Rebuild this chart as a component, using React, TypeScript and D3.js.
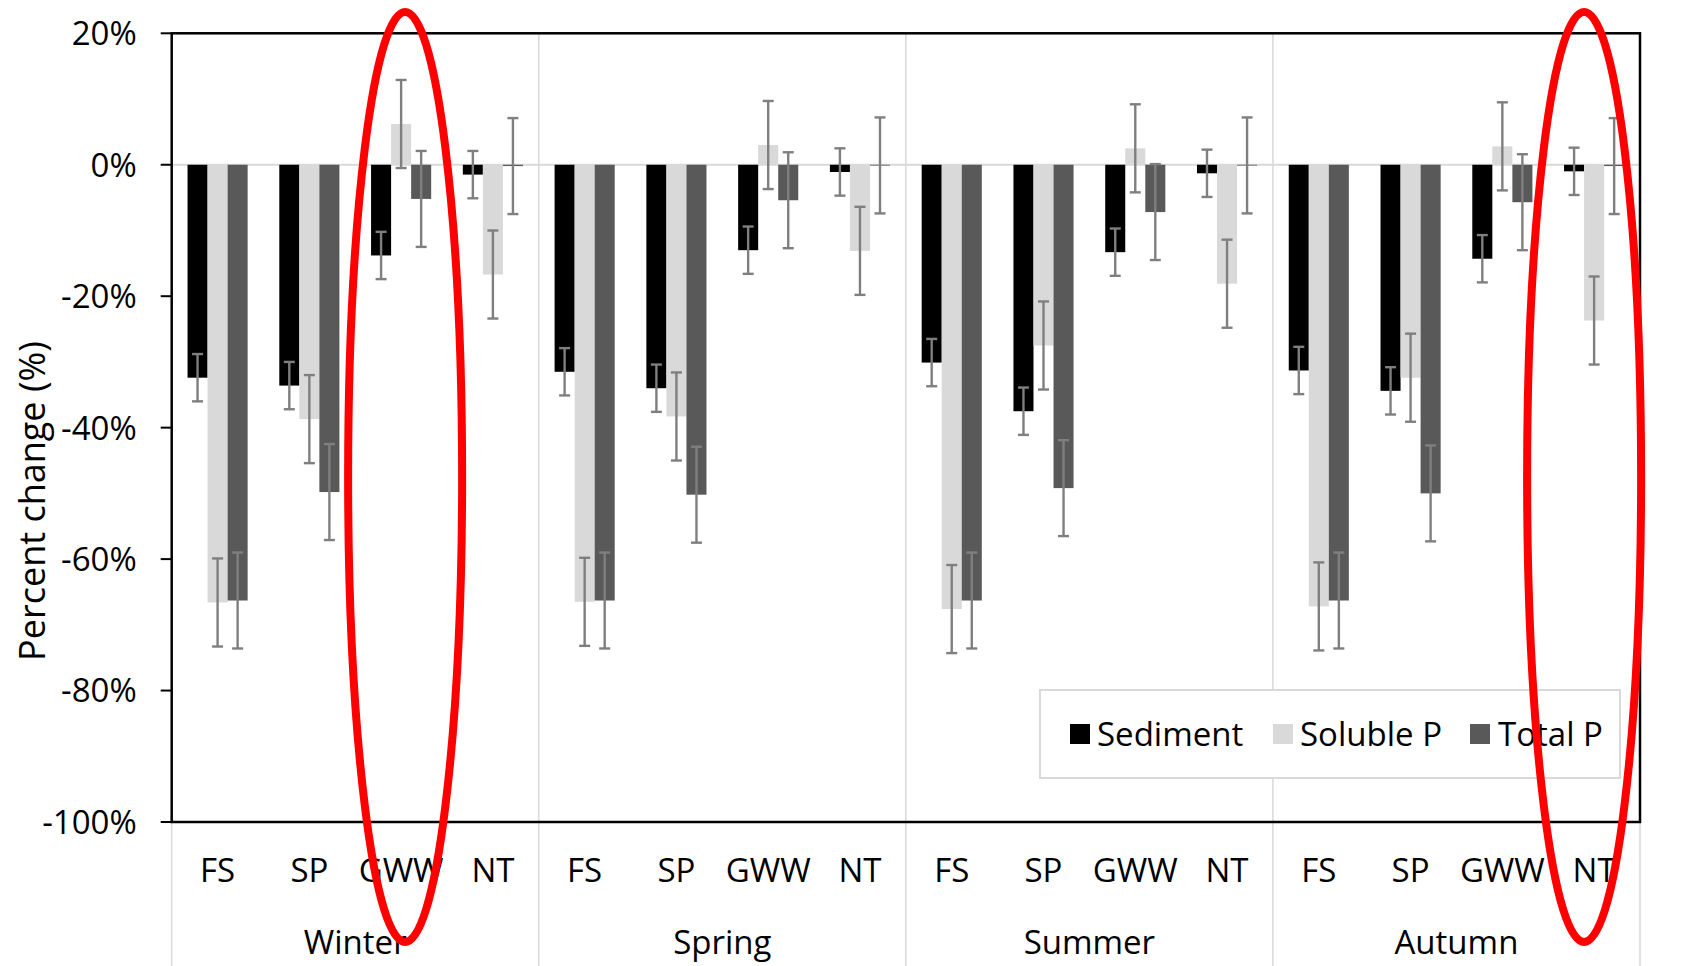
import React from "react";
import * as d3 from "d3";

const seasons = ["Winter", "Spring", "Summer", "Autumn"];
const categories = ["FS", "SP", "GWW", "NT"];
const seriesNames = ["Sediment", "Soluble P", "Total P"];
const seriesColors = ["#000000", "#d9d9d9", "#595959"];

const sediment = [-32.4, -33.6, -13.8, -1.5, -31.5, -34.0, -13.0, -1.1, -30.1, -37.5, -13.3, -1.3, -31.3, -34.4, -14.3, -1.0];
const soluble = [-66.6, -38.7, 6.2, -16.7, -66.5, -38.3, 3.0, -13.1, -67.6, -27.5, 2.5, -18.1, -67.2, -32.4, 2.8, -23.7];
const totalP = [-66.3, -49.8, -5.2, -0.2, -66.3, -50.2, -5.4, -0.1, -66.3, -49.2, -7.2, -0.1, -66.3, -50.0, -5.7, -0.2];

const sedimentErr = [3.6, 3.6, 3.6, 3.6, 3.6, 3.6, 3.6, 3.6, 3.6, 3.6, 3.6, 3.6, 3.6, 3.6, 3.6, 3.6];
const solubleErr = [6.7, 6.7, 6.7, 6.7, 6.7, 6.7, 6.7, 6.7, 6.7, 6.7, 6.7, 6.7, 6.7, 6.7, 6.7, 6.7];
const totalErr = [7.3, 7.3, 7.3, 7.3, 7.3, 7.3, 7.3, 7.3, 7.3, 7.3, 7.3, 7.3, 7.3, 7.3, 7.3, 7.3];

const yTicks = [20, 0, -20, -40, -60, -80, -100];

// highlighted groups: [season, category, x offset]
const highlights = [
  ["Winter", "GWW", 4],
  ["Autumn", "NT", -10],
];

const W = 1683;
const H = 966;
const left = 171.7;
const right = 1640;
const top = 33.3;
const bottom = 822;
const FONT = "'Open Sans', 'Noto Sans', sans-serif";
const FS = 33;

export default function App() {
  const y = d3.scaleLinear().domain([-100, 20]).range([bottom, top]);
  const xSeason = d3.scaleBand().domain(seasons).range([left, right]).padding(0);
  const xCat = d3.scaleBand().domain(categories).range([0, xSeason.bandwidth()]).padding(0);
  const xSer = d3
    .scaleBand()
    .domain(seriesNames)
    .range([0, xCat.bandwidth()])
    .paddingInner(0)
    .paddingOuter(0.79);

  const values = [sediment, soluble, totalP];
  const errs = [sedimentErr, solubleErr, totalErr];

  const bars: any[] = [];
  const errBars: any[] = [];
  seasons.forEach((s, si) => {
    categories.forEach((c, ci) => {
      const idx = si * categories.length + ci;
      seriesNames.forEach((sn, k) => {
        const v = values[k][idx];
        const e = errs[k][idx];
        const x0 = (xSeason(s) as number) + (xCat(c) as number) + (xSer(sn) as number);
        const bw = xSer.bandwidth();
        const y0 = y(0);
        const y1 = y(v);
        bars.push(
          <rect
            key={`b-${idx}-${k}`}
            x={x0}
            y={Math.min(y0, y1)}
            width={bw}
            height={Math.max(Math.abs(y1 - y0), 0.8)}
            fill={seriesColors[k]}
          />
        );
        const cx = x0 + bw / 2;
        const cap = 5.5;
        errBars.push(
          <g key={`e-${idx}-${k}`} stroke="#7f7f7f" strokeWidth={2.4} fill="none">
            <line x1={cx} x2={cx} y1={y(v + e)} y2={y(v - e)} />
            <line x1={cx - cap} x2={cx + cap} y1={y(v + e)} y2={y(v + e)} />
            <line x1={cx - cap} x2={cx + cap} y1={y(v - e)} y2={y(v - e)} />
          </g>
        );
      });
    });
  });

  const separators = [...seasons.map((s) => xSeason(s) as number), right];

  const legendX = 1040;
  const legendY = 690;
  const legendW = 580;
  const legendH = 88;
  const legendItems = [
    { name: seriesNames[0], color: seriesColors[0], sx: 1070, tx: 1097 },
    { name: seriesNames[1], color: seriesColors[1], sx: 1273, tx: 1300 },
    { name: seriesNames[2], color: seriesColors[2], sx: 1470, tx: 1498 },
  ];

  return (
    <svg
      width={W}
      height={H}
      style={{ position: "absolute", left: 0, top: 0, background: "#fff" }}
      fontFamily={FONT}
    >
      <rect x={0} y={0} width={W} height={H} fill="#fff" />
      {separators.map((sx, i) => (
        <line key={`sep-${i}`} x1={sx} x2={sx} y1={top} y2={H} stroke="#d9d9d9" strokeWidth={1.5} />
      ))}
      <line x1={left} x2={right} y1={y(0)} y2={y(0)} stroke="#d9d9d9" strokeWidth={2} />
      {bars}
      {errBars}
      <rect x={left} y={top} width={right - left} height={bottom - top} fill="none" stroke="#000" strokeWidth={2.5} />
      {yTicks.map((t) => (
        <g key={`yt-${t}`}>
          <line x1={left - 11} x2={left} y1={y(t)} y2={y(t)} stroke="#000" strokeWidth={2} />
          <text x={left - 35} y={y(t)} dy="0.36em" textAnchor="end" fontSize={FS} fill="#000">
            {`${t}%`}
          </text>
        </g>
      ))}
      <text
        transform={`translate(32,501) rotate(-90)`}
        textAnchor="middle"
        dy="0.35em"
        fontSize={36}
        fill="#000"
      >
        Percent change (%)
      </text>
      {seasons.map((s) =>
        categories.map((c) => (
          <text
            key={`cl-${s}-${c}`}
            x={(xSeason(s) as number) + (xCat(c) as number) + xCat.bandwidth() / 2}
            y={870}
            dy="0.35em"
            textAnchor="middle"
            fontSize={FS}
            fill="#000"
          >
            {c}
          </text>
        ))
      )}
      {seasons.map((s) => (
        <text
          key={`sl-${s}`}
          x={(xSeason(s) as number) + xSeason.bandwidth() / 2}
          y={942}
          dy="0.35em"
          textAnchor="middle"
          fontSize={FS}
          fill="#000"
        >
          {s}
        </text>
      ))}
      <rect x={legendX} y={legendY} width={legendW} height={legendH} fill="#fff" stroke="#d9d9d9" strokeWidth={2} />
      {legendItems.map((it) => (
        <g key={`lg-${it.name}`}>
          <rect x={it.sx} y={legendY + legendH / 2 - 10} width={20} height={20} fill={it.color} />
          <text x={it.tx} y={legendY + legendH / 2} dy="0.35em" fontSize={FS} fill="#000">
            {it.name}
          </text>
        </g>
      ))}
      {highlights.map(([s, c, off]) => (
        <ellipse
          key={`hl-${s}-${c}`}
          cx={(xSeason(s as string) as number) + (xCat(c as string) as number) + xCat.bandwidth() / 2 + (off as number)}
          cy={477}
          rx={57}
          ry={465}
          fill="none"
          stroke="#ff0000"
          strokeWidth={8}
        />
      ))}
    </svg>
  );
}
